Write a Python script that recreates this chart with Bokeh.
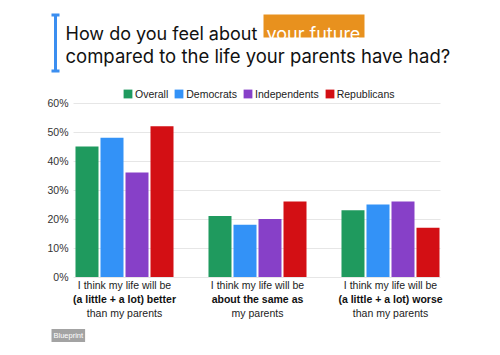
from bokeh.plotting import figure
from bokeh.models import (Range1d, FixedTicker, Legend, LegendItem, Label,
                          ColumnDataSource, PrintfTickFormatter, BoxAnnotation)
from bokeh.transform import dodge
from bokeh.embed import file_html
from bokeh.resources import INLINE
from bokeh.core.properties import value

# ---------------- data ----------------
title_line1 = "How do you feel about"
title_highlight = "your future"
title_line2 = "compared to the life your parents have had?"

groups = [0, 1, 2]
cat_line1 = ["I think my life will be", "I think my life will be", "I think my life will be"]
cat_line2 = ["(a little + a lot) better", "about the same as", "(a little + a lot) worse"]
cat_line3 = ["than my parents", "my parents", "than my parents"]

series = ["Overall", "Democrats", "Independents", "Republicans"]
overall = [45, 21, 23]
democrats = [48, 18, 25]
independents = [36, 20, 26]
republicans = [52, 26, 17]
y_ticks = [0, 10, 20, 30, 40, 50, 60]
badge_text = "Blueprint"

# ---------------- style ----------------
colors = ["#1f9a5e", "#3392f7", "#8740c8", "#d30f14"]
offsets = [-0.282, -0.094, 0.094, 0.282]
BAR_W = 0.173
FONT = "Liberation Sans"
TFONT = "Inter"
W, H = 496, 350

# geometry helpers (page pixels -> data)
FRAME_LEFT = 45
Y0_PX = 276.5
PXU_Y = 2.9          # pixels per percentage point
G0_PX = 124
PXU_X = 133          # pixels per group


def yd(py):
    return (Y0_PX - py) / PXU_Y


def xd(px):
    return (px - G0_PX) / PXU_X


p = figure(width=W, height=H, output_backend="svg", toolbar_location=None,
           x_range=Range1d(xd(FRAME_LEFT), xd(W)),
           y_range=Range1d(yd(H), yd(0)),
           min_border_left=FRAME_LEFT, min_border_right=0,
           min_border_top=0, min_border_bottom=0)
p.outline_line_color = None
p.background_fill_color = "white"
p.border_fill_color = "white"
p.xaxis.visible = False
p.xgrid.visible = False

p.yaxis.ticker = FixedTicker(ticks=y_ticks)
p.yaxis.formatter = PrintfTickFormatter(format="%d%%")
p.yaxis.bounds = (0, 60)
p.yaxis.axis_line_color = None
p.yaxis.major_tick_line_color = None
p.yaxis.minor_tick_line_color = None
p.yaxis.major_tick_out = 0
p.yaxis.major_tick_in = 0
p.yaxis.minor_tick_out = 0
p.yaxis.major_label_text_font = FONT
p.yaxis.major_label_text_font_size = "10.5px"
p.yaxis.major_label_text_color = "#333333"
p.yaxis.major_label_standoff = -23

GRID_COLOR = "#e6e6e6"
yg = p.ygrid[0]
yg.ticker = FixedTicker(ticks=y_ticks)
yg.grid_line_color = GRID_COLOR
yg.grid_line_width = 1
try:
    yg.cross_bounds = (xd(73), xd(440))
except AttributeError:
    yg.visible = False
    p.segment(x0=[xd(73)] * len(y_ticks), x1=[xd(440)] * len(y_ticks), y0=y_ticks, y1=y_ticks,
              line_color=GRID_COLOR, line_width=1, level="underlay")

# ---------- title ----------
BR = "#3b8ef0"
for (l, r, t, b) in [(53.5, 56.5, 14, 71), (51, 59, 13, 16), (51, 59, 69, 72)]:
    p.add_layout(BoxAnnotation(left=xd(l), right=xd(r), top=yd(t), bottom=yd(b),
                               fill_color=BR, fill_alpha=1, line_color=None))
p.quad(left=[xd(263)], right=[xd(364)], top=[yd(14)], bottom=[yd(37)],
       fill_color="#e8911e", line_color=None)
p.add_layout(Label(x=xd(65), y=yd(33), text=title_line1, text_font=TFONT,
                   text_font_size="18px", text_color="#111111", text_baseline="alphabetic"))
p.add_layout(Label(x=xd(266), y=yd(33), text=title_highlight, text_font=TFONT,
                   text_font_size="18px", text_color="white", text_baseline="alphabetic"))
p.add_layout(Label(x=xd(65), y=yd(55), text=title_line2, text_font=TFONT,
                   text_font_size="18.5px", text_color="#111111", text_baseline="alphabetic"))

# ---------- bars ----------
src = ColumnDataSource(dict(g=groups, Overall=overall, Democrats=democrats,
                            Independents=independents, Republicans=republicans))
items = []
for name, col, off in zip(series, colors, offsets):
    r = p.vbar(x=dodge("g", off, range=p.x_range), top=name, width=BAR_W, bottom=0,
               source=src, fill_color=col, line_color=None)
    items.append(LegendItem(label=name, renderers=[r]))

legend = Legend(items=items, orientation="horizontal",
                location=(122 - FRAME_LEFT, H - 99.5),
                glyph_width=11, glyph_height=11, label_height=11, label_width=10,
                label_standoff=2, spacing=5, padding=0, margin=0,
                border_line_color=None, background_fill_alpha=0,
                label_text_font=FONT, label_text_font_size="10.5px",
                label_text_color="#222222")
p.add_layout(legend)

# ---------- category labels ----------
p.text(x=groups, y=[yd(284)] * 3, text=cat_line1, text_align="center", text_baseline="middle",
       text_font=value(FONT), text_font_size=value("10.5px"), text_color="#222222")
p.text(x=groups, y=[yd(298)] * 3, text=cat_line2, text_align="center", text_baseline="middle",
       text_font=value(FONT), text_font_size=value("10.5px"), text_font_style="bold",
       text_color="#111111")
p.text(x=groups, y=[yd(312)] * 3, text=cat_line3, text_align="center", text_baseline="middle",
       text_font=value(FONT), text_font_size=value("10.5px"), text_color="#222222")

badge = Label(x=xd(51), y=yd(335), text=badge_text, text_font=FONT, text_font_size="7.5px",
              text_color="white", text_baseline="middle",
              background_fill_color="#a3a3a3", padding=2)
p.add_layout(badge)

open("out.html", "w").write(file_html(p, INLINE))
